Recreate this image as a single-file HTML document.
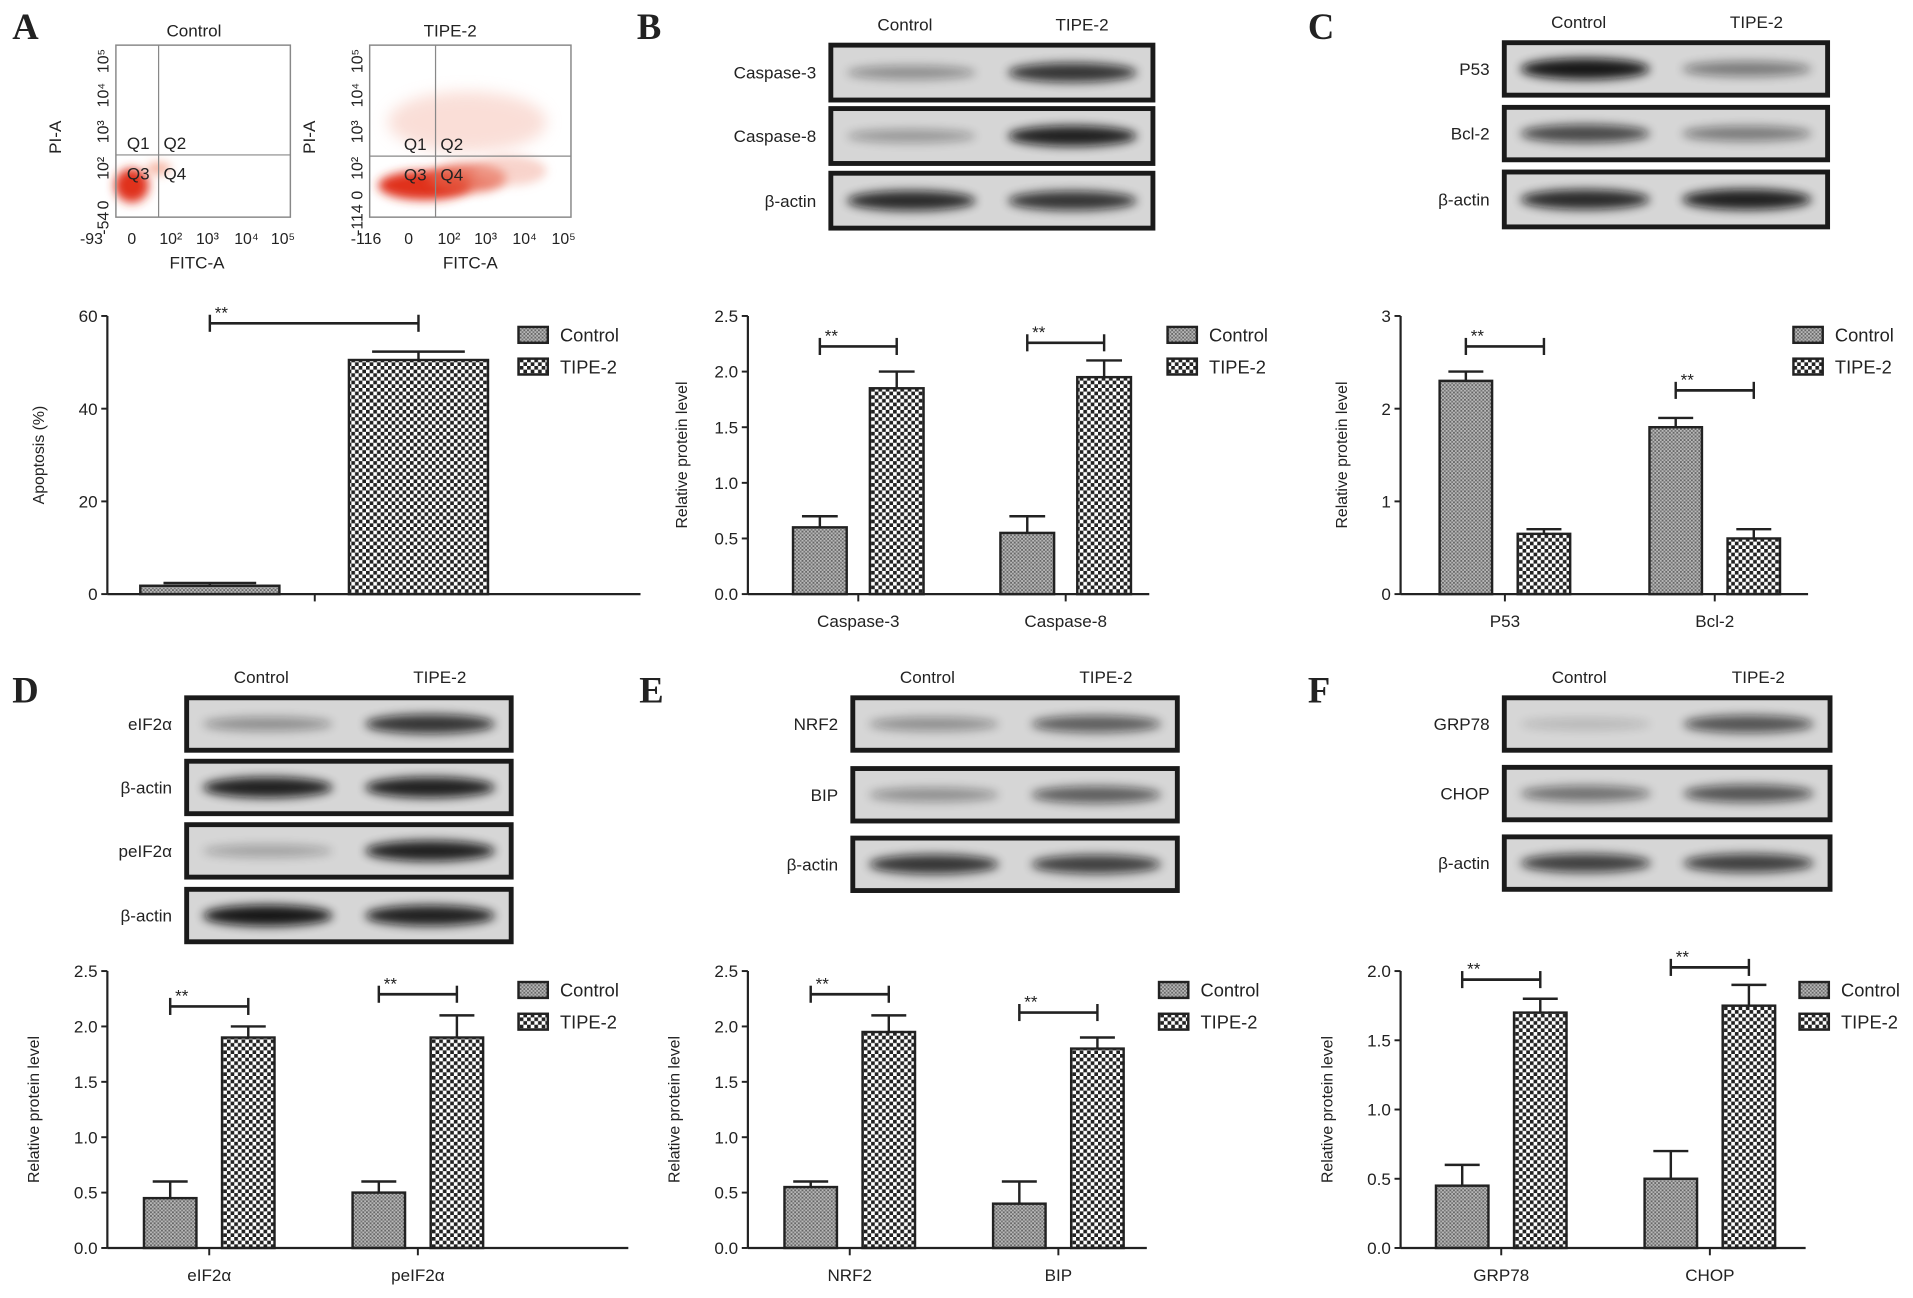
<!DOCTYPE html>
<html><head><meta charset="utf-8"><style>
html,body{margin:0;padding:0;background:#fff}
svg{display:block}
text{font-family:"Liberation Sans",Arial,sans-serif;fill:#222}
</style></head><body>
<svg id="fig" width="1913" height="1298" viewBox="0 0 1568 1064" preserveAspectRatio="none" xmlns="http://www.w3.org/2000/svg">
<defs>
<pattern id="pCtrl" width="3" height="3" patternUnits="userSpaceOnUse"><rect width="3" height="3" fill="#b8b8b8"/><rect width="1.5" height="1.5" fill="#666"/><rect x="1.5" y="1.5" width="1.5" height="1.5" fill="#777"/></pattern>
<pattern id="pTipe" width="6" height="6" patternUnits="userSpaceOnUse"><rect width="6" height="6" fill="#fff"/><rect width="3" height="3" fill="#222"/><rect x="3" y="3" width="3" height="3" fill="#222"/></pattern>
<filter id="blur" x="-30%" y="-100%" width="160%" height="300%"><feGaussianBlur stdDeviation="4"/></filter>
<filter id="blur2" x="-50%" y="-50%" width="200%" height="200%"><feGaussianBlur stdDeviation="6"/></filter>
</defs>
<g id="root"></g>
</svg>
<script>
// ---- Chart data ----
const legendLabels = ["Control", "TIPE-2"];
const aCategories = ["Control", "TIPE-2"];
const aValues = [1.8, 50.5];
const aErrors = [0.6, 1.8];
const aTicks = [0, 20, 40, 60];

const bCategories = ["Caspase-3", "Caspase-8"];
const bControl = [0.6, 0.55];
const bControlErr = [0.1, 0.15];
const bTipe = [1.85, 1.95];
const bTipeErr = [0.15, 0.15];
const bTicks = ["0.0", "0.5", "1.0", "1.5", "2.0", "2.5"];

const cCategories = ["P53", "Bcl-2"];
const cControl = [2.3, 1.8];
const cControlErr = [0.1, 0.1];
const cTipe = [0.65, 0.6];
const cTipeErr = [0.05, 0.1];
const cTicks = ["0", "1", "2", "3"];

const dCategories = ["eIF2\u03b1", "peIF2\u03b1"];
const dControl = [0.45, 0.5];
const dControlErr = [0.15, 0.1];
const dTipe = [1.9, 1.9];
const dTipeErr = [0.1, 0.2];
const dTicks = ["0.0", "0.5", "1.0", "1.5", "2.0", "2.5"];

const eCategories = ["NRF2", "BIP"];
const eControl = [0.55, 0.4];
const eControlErr = [0.05, 0.2];
const eTipe = [1.95, 1.8];
const eTipeErr = [0.15, 0.1];
const eTicks = ["0.0", "0.5", "1.0", "1.5", "2.0", "2.5"];

const fCategories = ["GRP78", "CHOP"];
const fControl = [0.45, 0.5];
const fControlErr = [0.15, 0.2];
const fTipe = [1.7, 1.75];
const fTipeErr = [0.1, 0.15];
const fTicks = ["0.0", "0.5", "1.0", "1.5", "2.0"];

const NS = "http://www.w3.org/2000/svg";
const root = document.getElementById("root");
function mk(tag, attrs, parent, txt) {
  const e = document.createElementNS(NS, tag);
  for (const k in attrs) e.setAttribute(k, attrs[k]);
  if (txt !== undefined) e.textContent = txt;
  (parent || root).appendChild(e);
  return e;
}
function ln(g, x1, y1, x2, y2, w) { return mk("line", {x1, y1, x2, y2, stroke: "#222", "stroke-width": w || 1.6}, g); }

// panel letters
[["A",10,32],["B",522,32],["C",1072,32],["D",10,576],["E",524,576],["F",1072,576]].forEach(p => {
  const t = mk("text", {x: p[1], y: p[2], "font-weight": "bold", "font-size": 30, style: "font-family:'Liberation Serif',serif"}, root, p[0]);
  
  
});

function barChart(id, cfg) {
  const g = mk("g", {});
  
  
  const y = v => cfg.y0 - (v / cfg.max) * (cfg.y0 - cfg.yTop);
  cfg.ticks.forEach(t => {
    const v = parseFloat(t), yy = y(v);
    ln(g, cfg.ax - 5, yy, cfg.ax, yy);
    const tx = mk("text", {x: cfg.ax - 8, y: yy + 5, "text-anchor": "end", "font-size": 14}, g, t);
    
    
  });
  cfg.series.forEach((s, si) => {
    s.values.forEach((v, i) => {
      const x = cfg.groupX[i] + si * cfg.gap;
      const top = y(v);
      const r = mk("rect", {x, y: top, width: cfg.bw, height: cfg.y0 - top, fill: si ? "url(#pTipe)" : "url(#pCtrl)", stroke: "#222", "stroke-width": 2}, g);
      
      
      const cx = x + cfg.bw / 2, ey = y(v + s.err[i]);
      ln(g, cx, top, cx, ey, 2);
      ln(g, cx - cfg.bw / 3, ey, cx + cfg.bw / 3, ey, 2);
    });
  });
  cfg.sig.forEach((sg, i) => {
    const x1 = cfg.groupX[i] + cfg.bw / 2, x2 = cfg.groupX[i] + cfg.gap + cfg.bw / 2;
    ln(g, x1, sg, x2, sg, 2.2); ln(g, x1, sg - 7, x1, sg + 7, 2); ln(g, x2, sg - 7, x2, sg + 7, 2);
    const st = mk("text", {x: x1 + 4, y: sg - 4, "font-size": 14}, g, "**");
    
    
  });
  ln(g, cfg.ax, cfg.yTop, cfg.ax, cfg.y0, 1.8);
  ln(g, cfg.ax, cfg.y0, cfg.xEnd, cfg.y0, 1.8);
  cfg.cats.forEach((c, i) => {
    const cx = cfg.catCenters ? cfg.catCenters[i] : cfg.groupX[i] + (cfg.gap + cfg.bw) / 2;
    ln(g, cx, cfg.y0, cx, cfg.y0 + 6);
    if (cfg.showCats) {
      const t = mk("text", {x: cx, y: cfg.y0 + 27, "text-anchor": "middle", "font-size": 14}, g, c);
      
      
    }
  });
  const yl = mk("text", {x: 0, y: 0, "text-anchor": "middle", "font-size": 13, transform: `translate(${cfg.ylX},${(cfg.y0 + cfg.yTop) / 2}) rotate(-90)`}, g, cfg.ylabel);
  
  
  legendLabels.forEach((L, i) => {
    const ly = cfg.legY + i * 26;
    const r = mk("rect", {x: cfg.legX, y: ly - 6, width: 24, height: 13, fill: i ? "url(#pTipe)" : "url(#pCtrl)", stroke: "#222", "stroke-width": 2}, g);
    
    
    const t = mk("text", {x: cfg.legX + 34, y: ly + 6, "font-size": 15}, g, L);
    
    
  });
}

barChart("a", {ax: 88, yTop: 259, y0: 487, max: 60, ticks: aTicks.map(String), xEnd: 525, bw: 114, gap: 171,
  groupX: [115], cats: ["apoptosis"], catCenters: [258], showCats: false,
  series: [{values: [aValues[0]], err: [aErrors[0]]}, {values: [aValues[1]], err: [aErrors[1]]}],
  sig: [265], ylabel: "Apoptosis (%)", ylX: 36, legX: 425, legY: 274});
barChart("b", {ax: 613, yTop: 259, y0: 487, max: 2.5, ticks: bTicks, xEnd: 942, bw: 44, gap: 63,
  groupX: [650, 820], cats: bCategories, showCats: true,
  series: [{values: bControl, err: bControlErr}, {values: bTipe, err: bTipeErr}],
  sig: [284, 281], ylabel: "Relative protein level", ylX: 563, legX: 957, legY: 274});
barChart("c", {ax: 1148, yTop: 259, y0: 487, max: 3, ticks: cTicks, xEnd: 1482, bw: 43, gap: 64,
  groupX: [1180, 1352], cats: cCategories, showCats: true,
  series: [{values: cControl, err: cControlErr}, {values: cTipe, err: cTipeErr}],
  sig: [284, 320], ylabel: "Relative protein level", ylX: 1104, legX: 1470, legY: 274});
barChart("d", {ax: 88, yTop: 796, y0: 1023, max: 2.5, ticks: dTicks, xEnd: 515, bw: 43, gap: 64,
  groupX: [118, 289], cats: dCategories, showCats: true,
  series: [{values: dControl, err: dControlErr}, {values: dTipe, err: dTipeErr}],
  sig: [825, 815], ylabel: "Relative protein level", ylX: 32, legX: 425, legY: 811});
barChart("e", {ax: 613, yTop: 796, y0: 1023, max: 2.5, ticks: eTicks, xEnd: 940, bw: 43, gap: 64,
  groupX: [643, 814], cats: eCategories, showCats: true,
  series: [{values: eControl, err: eControlErr}, {values: eTipe, err: eTipeErr}],
  sig: [815, 830], ylabel: "Relative protein level", ylX: 557, legX: 950, legY: 811});
barChart("f", {ax: 1148, yTop: 796, y0: 1023, max: 2.0, ticks: fTicks, xEnd: 1480, bw: 43, gap: 64,
  groupX: [1177, 1348], cats: fCategories, showCats: true,
  series: [{values: fControl, err: fControlErr}, {values: fTipe, err: fTipeErr}],
  sig: [803, 793], ylabel: "Relative protein level", ylX: 1092, legX: 1475, legY: 811});

function blot(id, x, w, hdrY, rows) {
  const g = mk("g", {});
  
  
  const h1 = mk("text", {x: x + w * 0.23, y: hdrY, "text-anchor": "middle", "font-size": 14}, g, "Control");
  
  
  const h2 = mk("text", {x: x + w * 0.78, y: hdrY, "text-anchor": "middle", "font-size": 14}, g, "TIPE-2");
  
  
  rows.forEach(r => {
    const [label, y0, h, i1, i2] = r;
    mk("rect", {x, y: y0, width: w, height: h, fill: "#d6d6d6", stroke: "#1a1a1a", "stroke-width": 4}, g);
    const cy = y0 + h / 2;
    [[x + w * 0.25, i1], [x + w * 0.75, i2]].forEach(b => {
      mk("ellipse", {cx: b[0], cy, rx: w * 0.2, ry: 4 + b[1] * 5, fill: "#111", opacity: b[1], filter: "url(#blur)"}, g);
    });
    const t = mk("text", {x: x - 12, y: cy + 5, "text-anchor": "end", "font-size": 14}, g, label);
    
    
  });
}
blot("b", 681, 264, 25, [["Caspase-3", 37, 45, 0.35, 0.8], ["Caspase-8", 89, 45, 0.3, 0.9], ["\u03b2-actin", 142, 45, 0.85, 0.8]]);
blot("c", 1233, 265, 23, [["P53", 35, 43, 0.95, 0.45], ["Bcl-2", 88, 43, 0.7, 0.45], ["\u03b2-actin", 141, 45, 0.85, 0.9]]);
blot("d", 153, 266, 560, [["eIF2\u03b1", 572, 43, 0.35, 0.8], ["\u03b2-actin", 624, 43, 0.9, 0.9], ["peIF2\u03b1", 676, 43, 0.25, 0.9], ["\u03b2-actin", 729, 43, 0.95, 0.9]]);
blot("e", 699, 266, 560, [["NRF2", 572, 43, 0.35, 0.6], ["BIP", 630, 43, 0.35, 0.6], ["\u03b2-actin", 687, 43, 0.8, 0.75]]);
blot("f", 1233, 267, 560, [["GRP78", 572, 43, 0.15, 0.65], ["CHOP", 629, 43, 0.5, 0.65], ["\u03b2-actin", 686, 43, 0.75, 0.75]]);

function flow(id, x, w, vx, hy, titleX, xt, yt, dense) {
  const g = mk("g", {});
  
  
  const y0 = 37, y1 = 178;
  const ttl = mk("text", {x: titleX, y: 30, "text-anchor": "middle", "font-size": 14}, g, dense ? "TIPE-2" : "Control");
  
  
  if (dense) {
    mk("ellipse", {cx: x + 80, cy: 100, rx: 65, ry: 25, fill: "#f6c4b8", opacity: 0.55, filter: "url(#blur2)"}, g);
    mk("ellipse", {cx: x + 45, cy: 152, rx: 38, ry: 12, fill: "#e0301e", filter: "url(#blur)"}, g);
    mk("ellipse", {cx: x + 80, cy: 146, rx: 32, ry: 12, fill: "#e45a42", opacity: 0.8, filter: "url(#blur)"}, g);
    mk("ellipse", {cx: x + 115, cy: 140, rx: 30, ry: 12, fill: "#f2a898", opacity: 0.5, filter: "url(#blur)"}, g);
  } else {
    mk("ellipse", {cx: x + 13, cy: 152, rx: 14, ry: 14, fill: "#e0301e", filter: "url(#blur)"}, g);
    mk("ellipse", {cx: x + 35, cy: 138, rx: 10, ry: 5, fill: "#f08060", opacity: 0.6, filter: "url(#blur)"}, g);
  }
  mk("rect", {x, y: y0, width: w, height: y1 - y0, fill: "none", stroke: "#888", "stroke-width": 1.2}, g);
  ln(g, vx, y0, vx, y1, 1).setAttribute("stroke", "#888");
  ln(g, x, hy, x + w, hy, 1).setAttribute("stroke", "#888");
  [["Q1", vx - 26, hy - 5], ["Q2", vx + 4, hy - 5], ["Q3", vx - 26, hy + 20], ["Q4", vx + 4, hy + 20]].forEach(q => {
    const t = mk("text", {x: q[1], y: q[2], "font-size": 14}, g, q[0]);
    
    
  });
  xt.forEach(tk => mk("text", {x: tk[1], y: 200, "text-anchor": "middle", "font-size": 13}, g, tk[0]));
  yt.forEach(tk => mk("text", {x: 0, y: 0, "text-anchor": "middle", "font-size": 13, transform: `translate(${x - 6},${tk[1]}) rotate(-90)`}, g, tk[0]));
  const xl = mk("text", {x: x + w / 2 + (dense ? 0 : -5), y: 220, "text-anchor": "middle", "font-size": 14}, g, "FITC-A");
  
  
  const yl = mk("text", {x: 0, y: 0, "text-anchor": "middle", "font-size": 14, transform: `translate(${x - 45},${(y0 + y1) / 2 + 5}) rotate(-90)`}, g, "PI-A");
  
  
}
flow("control", 95, 143, 130, 127, 159,
  [["-93", 75], ["0", 108], ["10\u00b2", 140], ["10\u00b3", 170], ["10\u2074", 202], ["10\u2075", 232]],
  [["-54", 183], ["0", 168], ["10\u00b2", 138], ["10\u00b3", 108], ["10\u2074", 78], ["10\u2075", 50]], false);
flow("tipe2", 303, 165, 357, 128, 369,
  [["-116", 300], ["0", 335], ["10\u00b2", 368], ["10\u00b3", 398], ["10\u2074", 430], ["10\u2075", 462]],
  [["-114", 180], ["0", 160], ["10\u00b2", 138], ["10\u00b3", 108], ["10\u2074", 78], ["10\u2075", 50]], true);
</script>
</body></html>
